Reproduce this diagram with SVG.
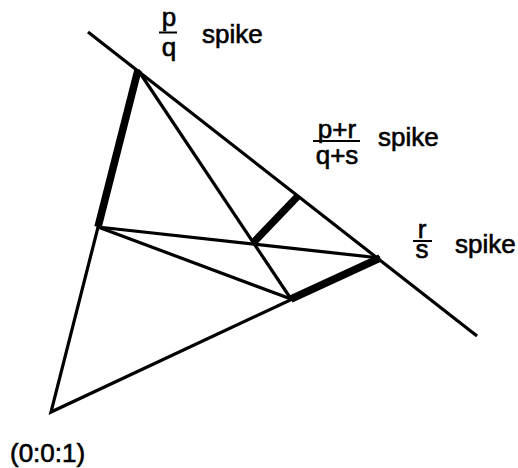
<svg xmlns="http://www.w3.org/2000/svg" width="518" height="468" viewBox="0 0 518 468">
<style>
.thin{stroke:#000;stroke-width:3.2;fill:none;stroke-linejoin:miter;stroke-linecap:butt}
.thick{stroke:#000;stroke-width:7.5;fill:none;stroke-linecap:butt}
.bar{stroke:#000;stroke-width:2}
text{font-family:"Liberation Sans",Arial,sans-serif;font-size:26px;fill:#000;stroke:#000;stroke-width:0.6}
.c{text-anchor:middle}
</style>
<rect width="518" height="468" fill="#fff"/>
<g id="connectors">
<line class="thin" x1="88" y1="32" x2="477" y2="336"/>
<polyline class="thin" points="138,70 51,412 380,258"/>
<line class="thin" x1="138" y1="70" x2="291" y2="299"/>
<line class="thin" x1="98" y1="227" x2="380" y2="258"/>
<line class="thin" x1="98" y1="227" x2="291" y2="299"/>
<line class="thick" x1="138" y1="70" x2="98" y2="227"/>
<line class="thick" x1="253" y1="243" x2="298" y2="196"/>
<line class="thick" x1="291" y1="299" x2="380" y2="258"/>
</g>
<g id="label-pq">
<text class="c" x="169" y="26">p</text>
<line class="bar" x1="159" y1="32.5" x2="177" y2="32.5"/>
<text class="c" x="169" y="56">q</text>
<text x="202" y="43">spike</text>
</g>
<g id="label-prqs">
<text class="c" x="337" y="138">p+r</text>
<line class="bar" x1="313" y1="141" x2="360" y2="141"/>
<text class="c" x="337" y="164">q+s</text>
<text x="378" y="146">spike</text>
</g>
<g id="label-rs">
<text class="c" x="422" y="238">r</text>
<line class="bar" x1="413" y1="241" x2="432" y2="241"/>
<text class="c" x="422" y="258">s</text>
<text x="455" y="253">spike</text>
</g>
<g id="label-origin">
<text x="10" y="462">(0:0:1)</text>
</g>
</svg>
